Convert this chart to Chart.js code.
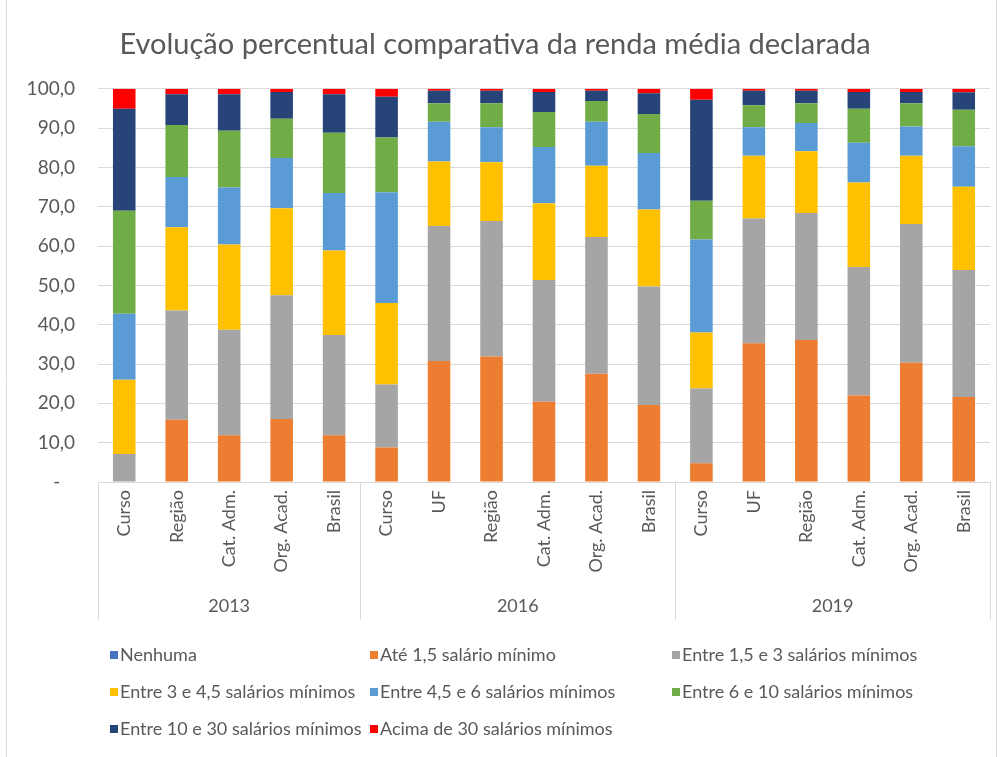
<!DOCTYPE html>
<html>
<head>
<meta charset="utf-8">
<script src="https://cdn.jsdelivr.net/npm/chart.js@4"></script>
<style>
  html, body { margin: 0; padding: 0; background: #fff; }
  #wrap { width: 1003px; height: 757px; }
</style>
</head>
<body>
<div id="wrap"><canvas id="chart" width="1003" height="757"></canvas></div>
<script>
const CATEGORIES = ['Curso', 'Região', 'Cat. Adm.', 'Org. Acad.', 'Brasil',
    'Curso', 'UF', 'Região', 'Cat. Adm.', 'Org. Acad.', 'Brasil',
    'Curso', 'UF', 'Região', 'Cat. Adm.', 'Org. Acad.', 'Brasil'];
const GROUP_LABELS = ['2013', '2016', '2019'];
const GROUP_SIZES = [5, 6, 6];

const SERIES_NAMES = ['Nenhuma', 'Até 1,5 salário mínimo', 'Entre 1,5 e 3 salários mínimos',
    'Entre 3 e 4,5 salários mínimos', 'Entre 4,5 e 6 salários mínimos', 'Entre 6 e 10 salários mínimos',
    'Entre 10 e 30 salários mínimos', 'Acima de 30 salários mínimos'];
const SERIES_COLORS = ['#4472C4', '#ED7D31', '#A5A5A5', '#FFC000', '#5B9BD5', '#70AD47', '#264478', '#FF0000'];

const NENHUMA = [0, 0, 0, 0, 0, 0, 0, 0, 0, 0, 0, 0, 0, 0, 0, 0, 0];
const ATE_1_5 = [0, 15.8, 11.9, 16.0, 11.9, 8.8, 30.8, 31.9, 20.4, 27.5, 19.6, 4.8, 35.3, 36.1, 22.0, 30.3, 21.6];
const DE_1_5_A_3 = [7.1, 27.8, 26.8, 31.5, 25.5, 16.0, 34.3, 34.5, 31.0, 34.8, 30.1, 19.0, 31.7, 32.3, 32.7, 35.3, 32.3];
const DE_3_A_4_5 = [18.9, 21.2, 21.7, 22.1, 21.5, 20.7, 16.4, 14.9, 19.5, 18.1, 19.6, 14.2, 16.0, 15.7, 21.5, 17.4, 21.2];
const DE_4_5_A_6 = [16.8, 12.8, 14.5, 12.8, 14.6, 28.2, 10.1, 8.9, 14.3, 11.2, 14.4, 23.7, 7.2, 7.2, 10.1, 7.4, 10.3];
const DE_6_A_10 = [26.2, 13.2, 14.4, 10.0, 15.3, 13.9, 4.7, 6.1, 8.9, 5.3, 9.9, 9.8, 5.6, 5.0, 8.6, 5.9, 9.3];
const DE_10_A_30 = [25.9, 7.8, 9.3, 6.8, 9.8, 10.4, 3.2, 3.2, 5.1, 2.6, 5.3, 25.7, 3.7, 3.2, 4.3, 2.9, 4.4];
const ACIMA_30 = [5.1, 1.4, 1.4, 0.8, 1.4, 2.0, 0.5, 0.5, 0.8, 0.5, 1.1, 2.8, 0.5, 0.5, 0.8, 0.8, 0.9];

const SERIES_VALUES = [NENHUMA, ATE_1_5, DE_1_5_A_3, DE_3_A_4_5, DE_4_5_A_6, DE_6_A_10, DE_10_A_30, ACIMA_30];

const FONT = 'Lato, "Liberation Sans", sans-serif';
const TEXT_COLOR = '#595959';
const LINE_COLOR = '#D9D9D9';

// frame, group labels under the axis, and a legend laid out in three columns
const excelBits = {
    id: 'excelBits',
    beforeDraw(chart) {
        const ctx = chart.ctx;
        ctx.save();
        ctx.fillStyle = '#fff';
        ctx.fillRect(0, 0, chart.width, chart.height);
        ctx.strokeStyle = LINE_COLOR;
        ctx.lineWidth = 1;
        ctx.beginPath();
        ctx.moveTo(6.5, 0); ctx.lineTo(6.5, chart.height);
        ctx.moveTo(996.5, 0); ctx.lineTo(996.5, chart.height);
        ctx.stroke();
        ctx.restore();
    },
    afterDraw(chart) {
        const ctx = chart.ctx;
        const x = chart.scales.x;
        const area = chart.chartArea;
        const step = x.getPixelForValue(1) - x.getPixelForValue(0);
        ctx.save();
        ctx.strokeStyle = LINE_COLOR;
        ctx.lineWidth = 1;
        ctx.fillStyle = TEXT_COLOR;
        ctx.font = '18px ' + FONT;
        ctx.textAlign = 'center';
        ctx.textBaseline = 'middle';
        let start = 0;
        GROUP_SIZES.forEach((n, g) => {
            const left = x.getPixelForValue(start) - step / 2;
            const right = x.getPixelForValue(start + n - 1) + step / 2;
            ctx.beginPath();
            ctx.moveTo(Math.round(left) + 0.5, area.bottom);
            ctx.lineTo(Math.round(left) + 0.5, area.bottom + 138);
            ctx.moveTo(Math.round(right) + 0.5, area.bottom);
            ctx.lineTo(Math.round(right) + 0.5, area.bottom + 138);
            ctx.stroke();
            ctx.fillText(GROUP_LABELS[g], (left + right) / 2, area.bottom + 124);
            start += n;
        });

        const colX = [110, 370, 672];
        const rowY = [655, 692, 729];
        ctx.textAlign = 'left';
        chart.data.datasets.forEach((ds, i) => {
            const cx = colX[i % 3];
            const cy = rowY[Math.floor(i / 3)];
            ctx.fillStyle = ds.backgroundColor;
            ctx.fillRect(cx, cy - 4, 8, 8);
            ctx.fillStyle = TEXT_COLOR;
            ctx.fillText(ds.label, cx + 10, cy);
        });
        ctx.restore();
    }
};

const datasets = SERIES_NAMES.map((name, i) => ({
    label: name,
    data: SERIES_VALUES[i],
    backgroundColor: SERIES_COLORS[i],
    borderWidth: 0,
    barPercentage: 0.43,
    categoryPercentage: 1
}));

const chartConfig = {
    type: 'bar',
    data: { labels: CATEGORIES, datasets: datasets },
    options: {
        responsive: false,
        animation: false,
        layout: { padding: { left: 0, right: 13, top: 0, bottom: 137 } },
        plugins: {
            legend: { display: false },
            tooltip: { enabled: false },
            title: {
                display: true,
                text: 'Evolução percentual comparativa da renda média declarada',
                color: TEXT_COLOR,
                font: { family: FONT, size: 29, weight: 'normal' },
                padding: { top: 27, bottom: 27 }
            }
        },
        scales: {
            x: {
                stacked: true,
                grid: { display: false, drawTicks: false },
                border: { display: true, color: LINE_COLOR },
                ticks: {
                    autoSkip: false,
                    minRotation: 90,
                    maxRotation: 90,
                    padding: 8,
                    color: TEXT_COLOR,
                    font: { family: FONT, size: 18 }
                },
                afterFit(scale) { scale.height = 138; }
            },
            y: {
                stacked: true,
                min: 0,
                max: 100,
                grid: { color: LINE_COLOR, drawTicks: false },
                border: { display: false },
                ticks: {
                    stepSize: 10,
                    padding: 23,
                    color: TEXT_COLOR,
                    font: { family: FONT, size: 19 },
                    callback: v => v === 0 ? '-   ' : v.toFixed(1).replace('.', ',')
                },
                afterFit(scale) { scale.width = 98; }
            }
        }
    },
    plugins: [excelBits]
};

const incomeChart = new Chart(document.getElementById('chart'), chartConfig);
</script>
</body>
</html>
